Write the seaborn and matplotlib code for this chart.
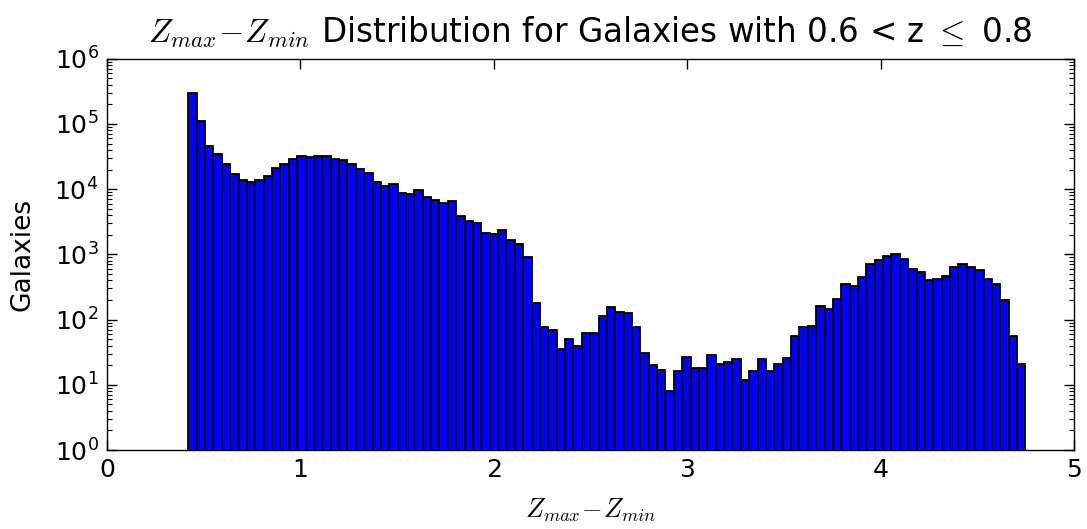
import numpy as np
import pandas as pd
import matplotlib
matplotlib.use("Agg")
import matplotlib.pyplot as plt
import seaborn as sns

# Histogram bin range (Z_max - Z_min) and the galaxy counts per bin
bin_lo = 0.421
bin_hi = 4.749
n_bins = 100

counts = [
    299000, 110000, 46100, 34400, 24100, 16800, 13900, 12900, 13900, 16000,
    20800, 24100, 29100, 32000, 30900, 32000, 32000, 29100, 27800, 24100,
    20300, 17600, 13100, 11100, 11900, 8840, 8380, 9660, 7460, 6780,
    6170, 6480, 3850, 3230, 3010, 2140, 2020, 2350, 1650, 1420,
    908, 182, 77, 69, 36, 51, 40, 62, 62, 114,
    155, 133, 126, 76, 31, 20, 17, 8, 16, 27,
    18, 18, 29, 21, 22, 25, 12, 16, 25, 16,
    21, 26, 56, 76, 79, 161, 145, 206, 346, 328,
    443, 704, 817, 940, 998, 846, 594, 540, 403, 417,
    464, 631, 702, 631, 574, 417, 346, 199, 56, 21,
]

x_ticks = [0, 1, 2, 3, 4, 5]
title_text = r"$Z_{max}\!-\!Z_{min}$ Distribution for Galaxies with 0.6 < z $\leq$ 0.8"
x_label = r"$Z_{max}\!-\!Z_{min}$"
y_label = "Galaxies"

edges = [float(e) for e in np.linspace(bin_lo, bin_hi, n_bins + 1)]
centers = [0.5 * (a + b) for a, b in zip(edges[:-1], edges[1:])]
df = pd.DataFrame({"dz": centers, "n": counts})

sns.set_theme(style="white")
plt.rcParams.update({
    "font.family": ["DejaVu Sans"],
    "mathtext.fontset": "cm",
    "text.color": "black",
    "axes.labelcolor": "black",
    "xtick.color": "black",
    "ytick.color": "black",
    "axes.edgecolor": "black",
    "axes.linewidth": 1.0,
})

fig = plt.figure(figsize=(10.87, 5.29), dpi=100)
ax = fig.add_axes([0.0984, 0.1493, 0.8896, 0.7397])

sns.histplot(
    data=df, x="dz", weights="n", bins=edges, ax=ax,
    color="#0000ff", edgecolor="black", linewidth=1.3, alpha=1.0,
)
ax.set_yscale("log")
ax.set_xlim(0, 5)
ax.set_ylim(1, 1e6)
ax.set_xticks(x_ticks)
ax.set_xticklabels([str(t) for t in x_ticks])
ax.set_yticks([10.0 ** k for k in range(7)])
ax.set_yticklabels([r"$\mathdefault{10^{%d}}$" % k for k in range(7)])

ax.tick_params(axis="both", which="major", direction="in", length=7, width=1.0,
               labelsize=18, pad=6, top=True, right=True, bottom=True, left=True)
ax.tick_params(axis="y", which="minor", direction="in", length=3.5, width=0.8,
               left=True, right=True)

ax.set_title(title_text, fontsize=23.5, pad=12)
ax.set_xlabel(x_label, fontsize=19, labelpad=10)
ax.set_ylabel(y_label, fontsize=19, labelpad=14)

fig.savefig("out.png", dpi=100, facecolor="white")
